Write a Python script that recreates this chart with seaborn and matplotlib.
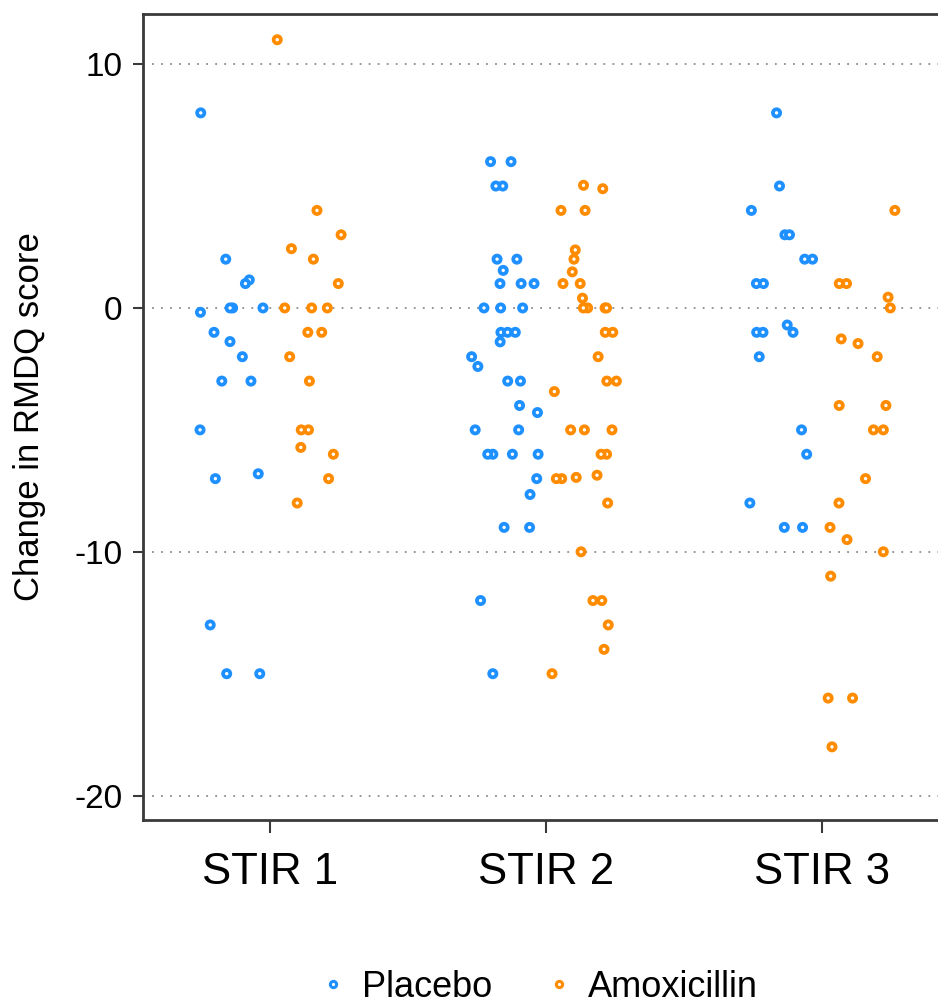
import matplotlib
matplotlib.use("Agg")
import matplotlib.pyplot as plt
from matplotlib.collections import PathCollection
from matplotlib.lines import Line2D
import numpy as np
import pandas as pd
import seaborn as sns

# --- values (change in RMDQ score) ---
STIR_LABELS = ["STIR 1", "STIR 2", "STIR 3"]
GROUPS = ["Placebo", "Amoxicillin"]

stir1_placebo = [8, 1.15, 2, 1, 0, 0, 0, -0.18, -1, -1.38, -2, -3, -3,
                 -5, -7, -6.8, -13, -15, -15]
stir1_amox = [11, 4, 3, 2.43, 2, 1, 0, 0, 0, -1, -1, -2, -3, -5, -5,
              -5.72, -6, -7, -8]
stir2_placebo = [6, 6, 5, 5, 2, 2, 1.54, 1, 1, 1, 0, 0, 0, -1, -1, -1,
                 -1.39, -2, -2.4, -3, -3, -4, -4.29, -5, -5, -6, -6, -6, -6,
                 -7, -7.65, -9, -9, -12, -15]
stir2_amox = [5.03, 4.89, 4, 4, 2.38, 2, 1.48, 1, 1, 0.4, 0, 0, 0, 0, -1, -1,
              -2, -3, -3, -3.43, -5, -5, -5, -6, -6, -7, -6.86, -7, -6.95,
              -8, -10, -12, -12, -13, -14, -15]
stir3_placebo = [8, 5, 4, 3, 3, 2, 2, 1, 1, -1, -1, -1, -0.7, -2, -5, -6,
                 -8, -9, -9]
stir3_amox = [4, 1, 1, 0.44, 0, -1.27, -1.46, -2, -4, -4, -5, -5, -7, -8,
              -9, -9.5, -10, -11, -16, -16, -18]

Y_TICKS = [10, 0, -10, -20]
COLORS = {"Placebo": "#1E90FF", "Amoxicillin": "#FF8C00"}


def build_frame():
    parts = [
        ("STIR 1", "Placebo", stir1_placebo),
        ("STIR 1", "Amoxicillin", stir1_amox),
        ("STIR 2", "Placebo", stir2_placebo),
        ("STIR 2", "Amoxicillin", stir2_amox),
        ("STIR 3", "Placebo", stir3_placebo),
        ("STIR 3", "Amoxicillin", stir3_amox),
    ]
    rows = []
    for stir, group, vals in parts:
        for v in vals:
            rows.append({"trial": stir, "group": group, "change": v})
    return pd.DataFrame(rows)


def main():
    df = build_frame()

    sns.set_theme(style="white")
    plt.rcParams["font.family"] = ["Liberation Sans", "DejaVu Sans"]
    plt.rcParams["text.color"] = "black"
    plt.rcParams["axes.labelcolor"] = "black"
    plt.rcParams["xtick.color"] = "black"
    plt.rcParams["ytick.color"] = "black"

    fig = plt.figure(figsize=(9.38, 10.08), dpi=100)
    ax = fig.add_axes([0.1525, 0.1865, 0.8475, 0.7995])

    np.random.seed(7)
    sns.stripplot(data=df, x="trial", y="change", hue="group",
                  order=STIR_LABELS, hue_order=GROUPS, palette=COLORS,
                  dodge=True, jitter=0.25, size=5.2, linewidth=0,
                  legend=False, ax=ax)

    # hollow ring markers, pulled slightly toward the category centre
    for coll in ax.collections:
        if not isinstance(coll, PathCollection):
            continue
        fc = coll.get_facecolor()
        offs = coll.get_offsets()
        if len(offs) == 0:
            continue
        rel = offs[:, 0] - np.round(offs[:, 0])
        shift = np.where(rel < 0, 0.055, -0.055)
        offs[:, 0] = offs[:, 0] + shift
        coll.set_offsets(offs)
        coll.set_edgecolor(fc)
        coll.set_facecolor("white")
        coll.set_linewidth(2.7)

    ax.set_xlim(-0.46, 2.42)
    ax.set_ylim(-21, 12.05)
    ax.set_yticks(Y_TICKS)
    ax.set_yticklabels([str(t) for t in Y_TICKS], fontsize=24)
    ax.set_xticks(range(len(STIR_LABELS)))
    ax.set_xticklabels(STIR_LABELS, fontsize=31.5)
    ax.set_xlabel("")
    ax.set_ylabel("Change in RMDQ score", fontsize=25, labelpad=20)

    for t in Y_TICKS:
        ax.axhline(t, color="#8c8c8c", linestyle=(0, (1, 4)), linewidth=1.3,
                   zorder=0)

    for side in ["left", "bottom", "top"]:
        ax.spines[side].set_visible(True)
        ax.spines[side].set_color("#3a3a3a")
        ax.spines[side].set_linewidth(2)
    ax.spines["right"].set_visible(False)

    ax.tick_params(axis="y", direction="out", length=7, width=1.5,
                   color="#3a3a3a", labelcolor="black", pad=8, left=True)
    ax.tick_params(axis="x", direction="out", length=9, width=1.5,
                   color="#3a3a3a", labelcolor="black", pad=14, bottom=True)

    handles = [
        Line2D([], [], linestyle="none", marker="o", markersize=4.5,
               markerfacecolor="white", markeredgecolor=COLORS[g],
               markeredgewidth=2.2, label=g)
        for g in GROUPS
    ]
    fig.legend(handles=handles, loc="lower center", ncol=2, frameon=False,
               fontsize=26, bbox_to_anchor=(0.572, -0.029),
               handletextpad=0.3, columnspacing=1.35, handlelength=1.0)

    fig.savefig("out.png", dpi=100)
    plt.close(fig)


if __name__ == "__main__":
    main()
